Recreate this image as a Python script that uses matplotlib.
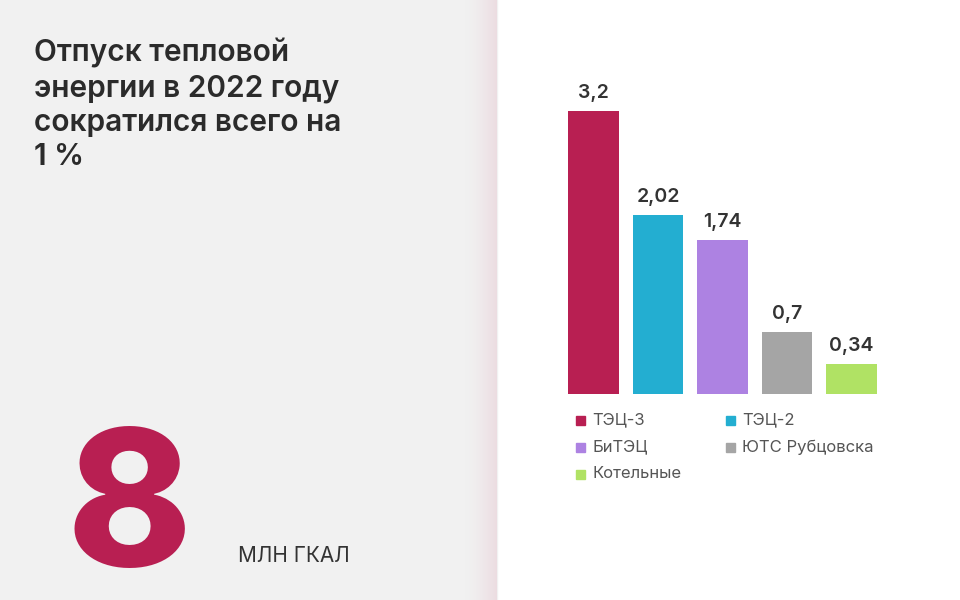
import matplotlib
matplotlib.use("Agg")
import matplotlib.pyplot as plt
import numpy as np
from matplotlib.patches import Rectangle

categories = ["ТЭЦ-3", "ТЭЦ-2", "БиТЭЦ", "ЮТС Рубцовска", "Котельные"]
values = [3.2, 2.02, 1.74, 0.7, 0.34]
value_labels = ["3,2", "2,02", "1,74", "0,7", "0,34"]
colors = ["#b81f52", "#23aed1", "#ad82e2", "#a5a5a5", "#b0e264"]
title_lines = ["Отпуск тепловой", "энергии в 2022 году", "сократился всего на", "1 %"]
big_number = "8"
unit = "МЛН ГКАЛ"

W, H = 960, 600
fig = plt.figure(figsize=(9.6, 6), dpi=100)
fig.patch.set_facecolor("white")

bg = fig.add_axes([0, 0, 1, 1])
bg.axis("off")
bg.add_patch(Rectangle((0, 0), 497, H, color="#f1f1f1", zorder=0))
grad = np.linspace(0, 1, 64) ** 1.5
c0 = np.array([0xf1, 0xf1, 0xf1]) / 255
c1 = np.array([0xec, 0xdc, 0xe1]) / 255
img = (c0[None, :] * (1 - grad[:, None]) + c1[None, :] * grad[:, None])[None, :, :]
bg.imshow(img, extent=(465, 497, H, 0), aspect="auto", zorder=1, interpolation="bilinear")
bg.set_xlim(0, W)
bg.set_ylim(H, 0)

fam = ["Inter", "DejaVu Sans"]
for i, line in enumerate(title_lines):
    bg.text(34, 62 + 34.3 * i, line, fontsize=21.5, fontweight="semibold", family=fam,
            color="#2b2b2b", va="baseline", ha="left", zorder=3)
bg.text(67, 566, big_number, fontsize=136, fontweight="heavy", family=fam,
        color="#b81f52", va="baseline", ha="left", zorder=3)
bg.text(238, 562, unit, fontsize=15, family=fam, color="#333333",
        va="baseline", ha="left", zorder=3)

ax = fig.add_axes([568 / W, 1 - 394 / H, 309 / W, 283 / H])
x = np.arange(len(values))
ax.bar(x, values, width=0.79, color=colors)
ax.set_xlim(-0.395, len(values) - 1 + 0.395)
ax.set_ylim(0, 3.2)
ax.axis("off")
for xi, v, lab in zip(x, values, value_labels):
    ax.annotate(lab, (xi, v), xytext=(0, 9.5), textcoords="offset points",
                ha="center", va="baseline", fontsize=14, fontweight="semibold",
                family=fam, color="#333333", annotation_clip=False)

leg_pos = [(580, 420), (730, 420), (580, 447), (730, 447), (580, 474)]
for (lx, ly), c, name in zip(leg_pos, colors, categories):
    bg.add_patch(Rectangle((lx - 4, ly - 4), 9, 9, color=c, zorder=3))
    bg.text(lx + 12, ly, name, fontsize=12, family=fam, color="#555555",
            va="center", ha="left", zorder=3)

fig.savefig("out.png", dpi=100)
